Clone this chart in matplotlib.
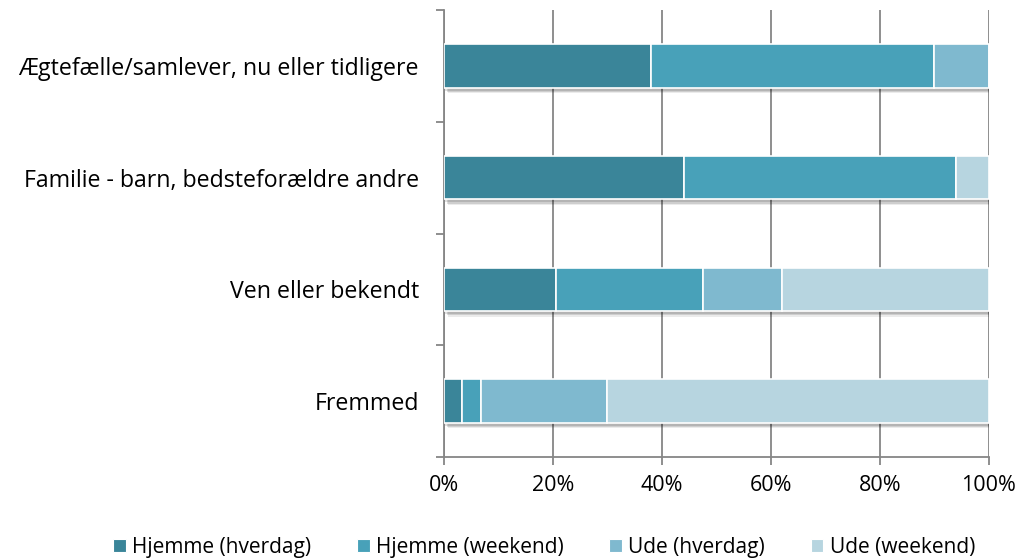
import matplotlib
matplotlib.use("Agg")
import matplotlib.pyplot as plt
import matplotlib.patheffects as pe
from matplotlib.patches import Patch
import numpy as np
from matplotlib.ticker import FixedLocator, PercentFormatter

plt.rcParams["font.family"] = ["Open Sans", "DejaVu Sans"]

categories = [
    "Ægtefælle/samlever, nu eller tidligere",
    "Familie - barn, bedsteforældre andre",
    "Ven eller bekendt",
    "Fremmed",
]
series_names = ["Hjemme (hverdag)", "Hjemme (weekend)", "Ude (hverdag)", "Ude (weekend)"]
hjemme_hverdag = [38.0, 44.0, 20.5, 3.3]
hjemme_weekend = [52.0, 50.0, 27.0, 3.5]
ude_hverdag = [10.0, 0.0, 14.5, 23.2]
ude_weekend = [0.0, 6.0, 38.0, 70.0]
colors = ["#3A8599", "#48A1B9", "#7FB9CF", "#B7D5E0"]

fig = plt.figure(figsize=(10.19, 5.6), dpi=100)
ax = fig.add_axes([0.4357, 0.184, 0.5348, 0.798])

y = np.arange(len(categories))[::-1]
left = np.zeros(len(categories))
# soft drop shadow under the bars
shadow = [
    pe.SimplePatchShadow(offset=(3, -4), shadow_rgbFace="#000000", alpha=0.08),
    pe.SimplePatchShadow(offset=(2, -3), shadow_rgbFace="#000000", alpha=0.12),
    pe.SimplePatchShadow(offset=(1, -2), shadow_rgbFace="#000000", alpha=0.12),
    pe.Normal(),
]
for vals, col in zip([hjemme_hverdag, hjemme_weekend, ude_hverdag, ude_weekend], colors):
    vals = np.array(vals)
    bars = ax.barh(y, vals, left=left, height=0.39, color=col, edgecolor="white",
                   linewidth=1.2, zorder=3)
    for b in bars:
        if b.get_width() > 0:
            b.set_path_effects(shadow)
    left += vals

ax.set_xlim(0, 100)
ax.set_ylim(-0.5, len(categories) - 0.5)
ax.xaxis.set_major_locator(FixedLocator([0, 20, 40, 60, 80, 100]))
ax.xaxis.set_major_formatter(PercentFormatter(decimals=0))
ax.grid(axis="x", color="#868686", linewidth=1.3, zorder=0)
ax.set_axisbelow(True)

ax.set_yticks(y)
ax.set_yticklabels(categories)
ax.yaxis.set_minor_locator(FixedLocator(np.arange(-0.5, len(categories), 1.0)))
ax.tick_params(axis="y", which="major", length=0, pad=18, labelsize=16.7, colors="black")
ax.tick_params(axis="y", which="minor", length=6, width=1.3, color="#868686", direction="out")
ax.tick_params(axis="x", length=6, width=1.3, color="#868686", pad=7, labelsize=15.5)

for s in ["top", "right"]:
    ax.spines[s].set_visible(False)
for s in ["left", "bottom"]:
    ax.spines[s].set_color("#868686")
    ax.spines[s].set_linewidth(1.3)

handles = [Patch(facecolor=c, edgecolor="white", linewidth=0.8) for c in colors]
fig.legend(handles, series_names, loc="lower center", bbox_to_anchor=(0.534, -0.03),
           ncol=4, frameon=False, fontsize=15, handlelength=0.6, handleheight=0.6,
           handletextpad=0.3, columnspacing=2.2)

fig.savefig("out.png", dpi=100)
